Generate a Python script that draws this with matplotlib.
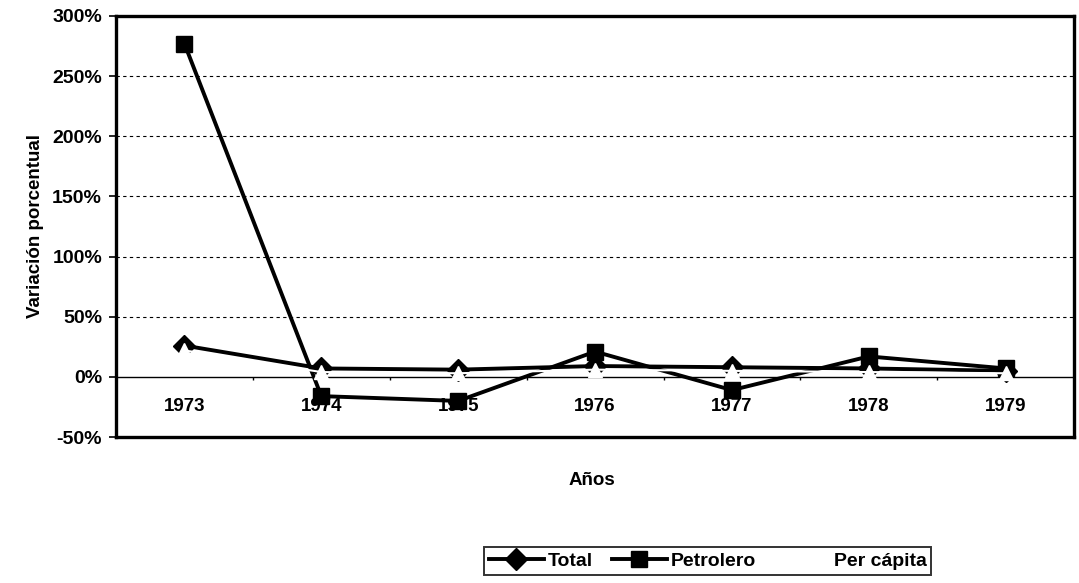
import numpy as np
import matplotlib
matplotlib.use("Agg")
import matplotlib.pyplot as plt
from matplotlib.ticker import FuncFormatter

plt.rcParams['font.family'] = ['Liberation Sans', 'DejaVu Sans']
plt.rcParams['font.weight'] = 'bold'

years = ['1973', '1974', '1975', '1976', '1977', '1978', '1979']
total = [26, 7, 6, 9, 8, 7, 5]
petrolero = [277, -16, -20, 21, -11, 17, 7]
per_capita = [22, 4, 3, 6, 5, 4, 3]

fig = plt.figure(figsize=(10.79, 5.83), dpi=100)
ax = fig.add_axes([0.1075, 0.2504, 0.888, 0.7222])

x = np.arange(len(years))

# dotted gridlines
for g in [50, 100, 150, 200, 250]:
    ax.axhline(g, color='black', lw=0.8, ls=(0, (3, 3)), zorder=1)
ax.axhline(0, color='black', lw=1.0, zorder=1)
# category boundary ticks on the zero line
ax.vlines(np.arange(len(years) - 1) + 0.5, -3, 0, color='black', lw=1.0, zorder=1)

ax.plot(x, total, color='black', lw=2.8, marker='D', ms=11, mfc='black', mec='black',
        label='Total', zorder=3)
ax.plot(x, petrolero, color='black', lw=2.8, marker='s', ms=12, mfc='black', mec='black',
        label='Petrolero', zorder=3)
ax.plot(x, per_capita, color='white', lw=1.5, marker='^', ms=10, mfc='white', mec='white',
        label='Per cápita', zorder=4)

ax.set_xlim(-0.5, len(years) - 0.5)
ax.set_ylim(-50, 300)
ax.set_yticks(np.arange(-50, 301, 50))
ax.yaxis.set_major_formatter(FuncFormatter(lambda v, p: f'{int(v)}%'))
ax.tick_params(axis='y', labelsize=14, length=5, width=1.2, direction='out', pad=5)
ax.set_xticks([])
for xi, lab in zip(x, years):
    ax.text(xi, -25, lab, ha='center', va='center', fontsize=13.5, fontweight='bold')

for s in ax.spines.values():
    s.set_linewidth(2.4)

ax.set_ylabel('Variación porcentual', fontsize=13.5, fontweight='bold', labelpad=6)
fig.text(0.5485, 0.175, 'Años', ha='center', va='center', fontsize=13.5, fontweight='bold')

leg = fig.legend(loc='center', bbox_to_anchor=(0.656, 0.038), ncol=3, frameon=True,
                 fancybox=False, edgecolor='black', fontsize=14, handlelength=2.8,
                 handletextpad=0.2, columnspacing=1.0, borderpad=0.25)
leg.get_frame().set_linewidth(1.4)

fig.savefig('out.png', dpi=100)
